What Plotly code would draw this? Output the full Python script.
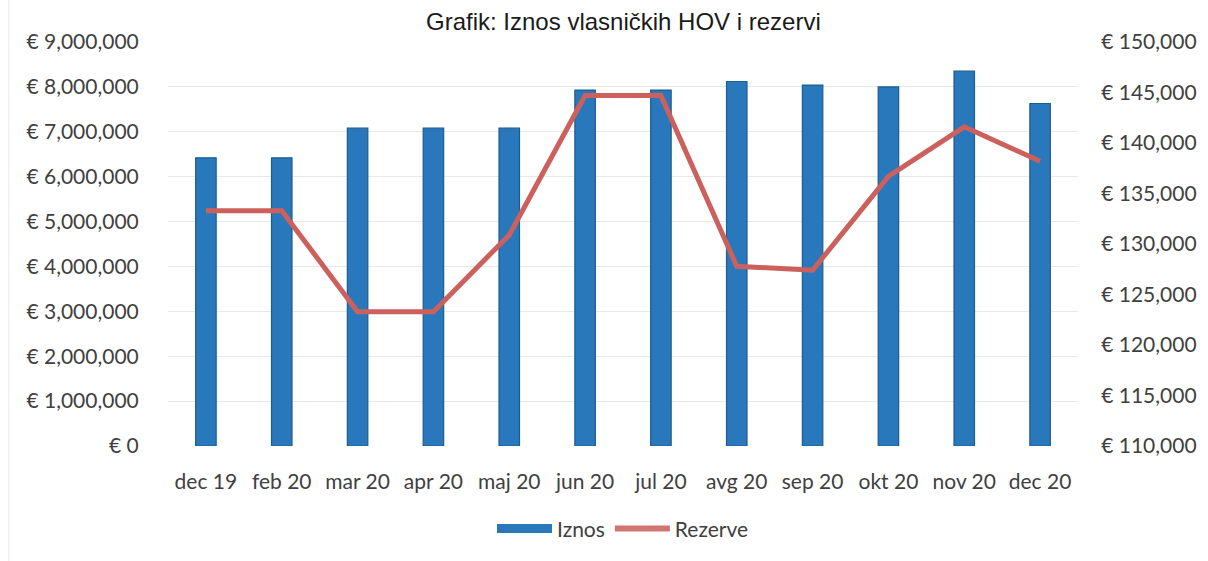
import plotly.graph_objects as go

# Monthly data: amount of equity securities (left axis) and reserves (right axis)
months = ["dec 19", "feb 20", "mar 20", "apr 20", "maj 20", "jun 20",
          "jul 20", "avg 20", "sep 20", "okt 20", "nov 20", "dec 20"]
iznos = [6420000, 6420000, 7080000, 7080000, 7080000, 7930000,
         7930000, 8120000, 8040000, 8000000, 8350000, 7630000]
rezerve = [133300, 133300, 123300, 123300, 130900, 144700,
           144700, 127800, 127400, 136700, 141600, 138200]

left_ticks = list(range(0, 9000001, 1000000))
right_ticks = list(range(110000, 150001, 5000))

BLUE = "#2A78BC"
BLUE_EDGE = "#1B5C91"
RED = "#CB605C"
TEXT = "#404040"
FONT = "Lato"
FS = 21

fig = go.Figure()

fig.add_trace(go.Bar(
    x=months, y=iznos, name="Iznos", width=0.27,
    marker=dict(color=BLUE, line=dict(color=BLUE_EDGE, width=1.2)),
    showlegend=False, yaxis="y",
))
fig.add_trace(go.Scatter(
    x=months, y=rezerve, name="Rezerve", mode="lines",
    line=dict(color=RED, width=5), showlegend=False, yaxis="y2",
))

# Legend entries (wide swatches)
fig.add_trace(go.Scatter(
    x=[None], y=[None], name="Iznos", mode="lines",
    line=dict(color=BLUE, width=9), yaxis="y",
))
fig.add_trace(go.Scatter(
    x=[None], y=[None], name="Rezerve", mode="lines",
    line=dict(color="#D27472", width=6), yaxis="y2",
))

fig.update_layout(
    width=1208, height=561,
    margin=dict(l=168, r=130, t=42, b=109),
    paper_bgcolor="white", plot_bgcolor="white",
    font=dict(family=FONT, size=FS, color=TEXT),
    xaxis=dict(
        type="category", range=[-0.5, 11.5],
        showgrid=False, showline=False, zeroline=False,
        ticks="outside", ticklen=17, tickcolor="rgba(0,0,0,0)",
        tickfont=dict(family=FONT, size=FS, color=TEXT),
    ),
    yaxis=dict(
        range=[0, 9000000], tickvals=left_ticks,
        ticktext=[f"€ {v:,}" for v in left_ticks],
        showgrid=True, gridcolor="#E8E8E8", gridwidth=1,
        zeroline=False, showline=False,
        ticks="outside", ticklen=24, tickcolor="rgba(0,0,0,0)",
        tickfont=dict(family=FONT, size=FS, color=TEXT),
    ),
    yaxis2=dict(
        range=[110000, 150000], tickvals=right_ticks,
        ticktext=[f"€ {v:,}" for v in right_ticks],
        overlaying="y", side="right", showgrid=False,
        zeroline=False, showline=False,
        ticks="outside", ticklen=18, tickcolor="rgba(0,0,0,0)",
        tickfont=dict(family=FONT, size=FS, color=TEXT),
    ),
    legend=dict(
        orientation="h", x=0.5, xanchor="center",
        y=-0.205, yanchor="middle",
        font=dict(family=FONT, size=FS, color=TEXT),
        itemwidth=55, traceorder="normal",
    ),
    annotations=[dict(
        text="Grafik: Iznos vlasničkih HOV i rezervi",
        xref="paper", yref="paper", x=0.5, xanchor="center",
        y=1.012, yanchor="bottom", showarrow=False,
        font=dict(family="Liberation Sans", size=24, color="#1A1A1A"),
    )],
    shapes=[dict(
        type="rect", xref="paper", yref="paper",
        x0=-0.175, x1=1.2, y0=-0.3, y1=1.2,
        line=dict(color="#EAEAEA", width=1), layer="below",
    )],
)

fig.write_html("out.html")
